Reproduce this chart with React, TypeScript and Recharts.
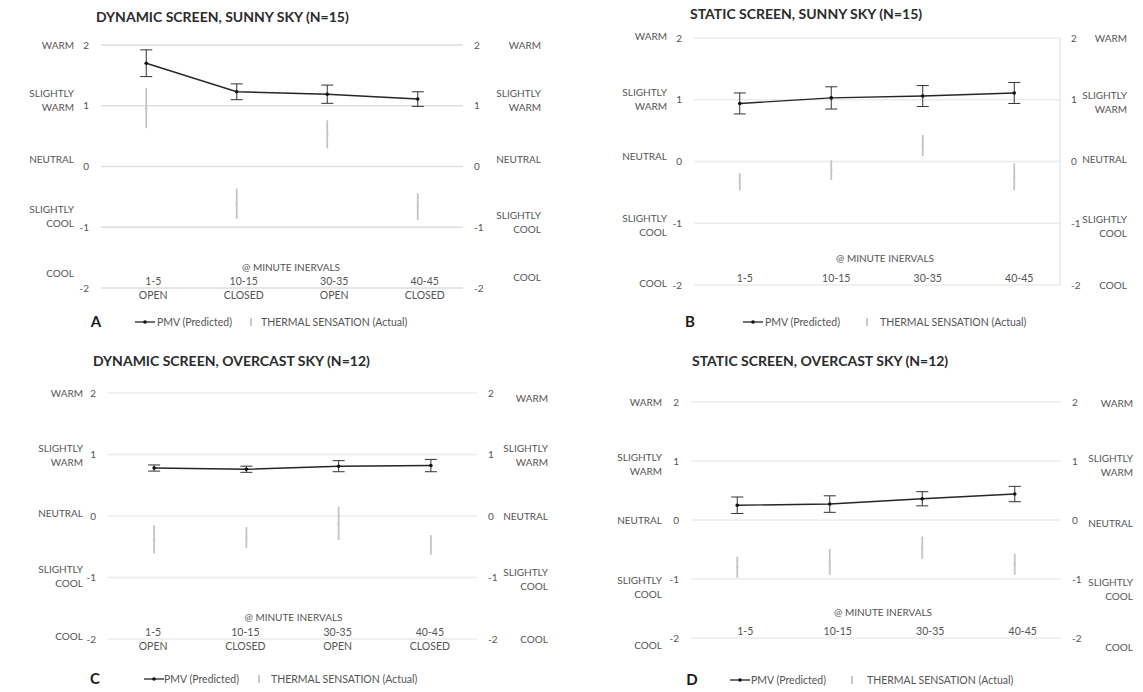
import React from 'react';
import { ComposedChart, Line, XAxis, YAxis, CartesianGrid, ErrorBar, Label } from 'recharts';

// categories and tick labels
const intervals = ['1-5', '10-15', '30-35', '40-45'];
const screenStates = ['OPEN', 'CLOSED', 'OPEN', 'CLOSED'];
const levelTicks = [-2, -1, 0, 1, 2];
const levelNames = ['COOL', 'SLIGHTLY|COOL', 'NEUTRAL', 'SLIGHTLY|WARM', 'WARM'];

// A: dynamic screen, sunny sky
const pmvDynSunny = [1.7, 1.23, 1.19, 1.11];
const pmvDynSunnyErr = [0.22, 0.13, 0.15, 0.12];
const tsDynSunny = [0.96, -0.61, 0.53, -0.66];
const tsDynSunnyErr = [0.33, 0.25, 0.23, 0.22];

// B: static screen, sunny sky
const pmvStatSunny = [0.94, 1.03, 1.06, 1.11];
const pmvStatSunnyErr = [0.17, 0.18, 0.17, 0.17];
const tsStatSunny = [-0.33, -0.14, 0.26, -0.25];
const tsStatSunnyErr = [0.14, 0.16, 0.17, 0.22];

// C: dynamic screen, overcast sky
const pmvDynOvercast = [0.78, 0.76, 0.81, 0.82];
const pmvDynOvercastErr = [0.05, 0.05, 0.09, 0.1];
const tsDynOvercast = [-0.38, -0.35, -0.12, -0.47];
const tsDynOvercastErr = [0.23, 0.17, 0.27, 0.16];

// D: static screen, overcast sky
const pmvStatOvercast = [0.25, 0.27, 0.36, 0.44];
const pmvStatOvercastErr = [0.14, 0.14, 0.12, 0.13];
const tsStatOvercast = [-0.8, -0.71, -0.47, -0.75];
const tsStatOvercastErr = [0.18, 0.22, 0.19, 0.18];

const FONT = 'Lato, "Liberation Sans", sans-serif';
const TXT = '#555';

type Rect = { l: number; r: number; t: number; b: number };

interface PanelProps {
  title: string;
  letter: string;
  box: { x: number; y: number; w: number; h: number };
  plot: Rect;
  pmv: number[];
  pmvErr: number[];
  ts: number[];
  tsErr: number[];
  showStates: boolean;
  leftShift: number[];
  rightShift: number[];
  leftLabelGap: number;
  rightLabelGap: number;
  catDx: number;
  axisTitleDx: number;
  axisTitleDy: number;
  gridColor: string;
  rightLine?: boolean;
  titlePos: [number, number];
  legend: { y: number; letterX: number; lineX: number; textX: number; markX: number; tsX: number };
}

const makeLevelTick = (side: 'left' | 'right', edge: number, gap: number, shifts: number[]) => (p: any) => {
  const v = p.payload.value as number;
  const i = levelTicks.indexOf(v);
  const lines = levelNames[i].split('|');
  const numX = side === 'left' ? edge - 12 : edge + 11;
  const labX = side === 'left' ? edge - gap : edge + gap;
  return (
    <g>
      <text x={numX} y={p.y} dy="0.35em" textAnchor={side === 'left' ? 'end' : 'start'} fontSize={10} fill={TXT} fontFamily={FONT}>
        {String(v)}
      </text>
      <text x={labX} y={p.y + shifts[i]} textAnchor="end" fontSize={10} fill={TXT} fontFamily={FONT}>
        {lines.map((t, k) => (
          <tspan key={k} x={labX} dy={k === 0 ? '0.35em' : 14}>
            {t}
          </tspan>
        ))}
      </text>
    </g>
  );
};

const Panel: React.FC<PanelProps> = (props) => {
  const { box, plot } = props;
  const ly = 90;
  const ry = 70;
  const xh = 30;
  const local = { l: plot.l - box.x, r: plot.r - box.x, t: plot.t - box.y, b: plot.b - box.y };
  const margin = {
    left: local.l - ly,
    right: box.w - local.r - ry,
    top: local.t,
    bottom: box.h - local.b - xh,
  };
  const halfBand = (local.r - local.l) / 8;

  const data = intervals.map((name, i) => ({
    name,
    state: screenStates[i],
    pmv: props.pmv[i],
    pmvErr: props.pmvErr[i],
    ts: props.ts[i],
    tsErr: props.tsErr[i],
  }));

  const catTick = (p: any) => {
    const i = intervals.indexOf(p.payload.value);
    const x = p.x + props.catDx;
    return (
      <text x={x} y={local.b - 7} textAnchor="middle" fontSize={10.5} fill={TXT} fontFamily={FONT}>
        <tspan x={x} dy="0.35em">{p.payload.value}</tspan>
        {props.showStates && (
          <tspan x={x} dy={14}>
            {screenStates[i]}
          </tspan>
        )}
      </text>
    );
  };

  return (
    <div style={{ position: 'absolute', left: box.x, top: box.y, width: box.w, height: box.h }}>
      <ComposedChart width={box.w} height={box.h} data={data} margin={margin}>
        <CartesianGrid vertical={false} stroke={props.gridColor} strokeWidth={1.5} yAxisId="left" />
        <XAxis
          dataKey="name"
          axisLine={false}
          tickLine={false}
          height={xh}
          tick={catTick}
          interval={0}
          padding={{ left: halfBand, right: halfBand }}
        >
          <Label
            content={({ viewBox }: any) => (
              <text
                x={viewBox.x + viewBox.width / 2 + props.axisTitleDx}
                y={viewBox.y + props.axisTitleDy}
                dy="0.35em"
                textAnchor="middle"
                fontSize={10}
                fill={TXT}
                fontFamily={FONT}
              >
                @ MINUTE INERVALS
              </text>
            )}
          />
        </XAxis>
        <YAxis
          yAxisId="left"
          domain={[-2, 2]}
          ticks={levelTicks}
          width={ly}
          axisLine={false}
          tickLine={false}
          tick={makeLevelTick('left', local.l, props.leftLabelGap, props.leftShift)}
        />
        <YAxis
          yAxisId="right"
          orientation="right"
          domain={[-2, 2]}
          ticks={levelTicks}
          width={ry}
          axisLine={props.rightLine ? { stroke: '#dcdcdc' } : false}
          tickLine={false}
          tick={makeLevelTick('right', local.r, props.rightLabelGap, props.rightShift)}
        />
        <Line
          yAxisId="right"
          dataKey="ts"
          name="THERMAL SENSATION (Actual)"
          stroke="none"
          dot={{ r: 1.2, fill: '#c8c8c8', stroke: 'none' }}
          isAnimationActive={false}
        >
          <ErrorBar dataKey="tsErr" width={0} stroke="#c4c4c4" strokeWidth={1.8} />
        </Line>
        <Line
          yAxisId="left"
          dataKey="pmv"
          name="PMV (Predicted)"
          stroke="#262626"
          strokeWidth={1.4}
          dot={{ r: 1.8, fill: '#111', stroke: 'none' }}
          isAnimationActive={false}
        >
          <ErrorBar dataKey="pmvErr" width={6} stroke="#333" strokeWidth={1} />
        </Line>
      </ComposedChart>
    </div>
  );
};

const Overlay: React.FC<{ panels: PanelProps[] }> = ({ panels }) => (
  <svg width={1143} height={692} style={{ position: 'absolute', left: 0, top: 0, pointerEvents: 'none' }}>
    {panels.map((p) => {
      const lg = p.legend;
      return (
        <g key={p.letter}>
          <text x={p.titlePos[0]} y={p.titlePos[1]} dy="0.35em" fontSize={14} fontWeight={700} fill="#2b2b2b" fontFamily={FONT}>
            {p.title}
          </text>
          <text x={lg.letterX} y={lg.y} dy="0.35em" textAnchor="middle" fontSize={15} fontWeight={700} fill="#1a1a1a" fontFamily={FONT}>
            {p.letter}
          </text>
          <line x1={lg.lineX} x2={lg.lineX + 20} y1={lg.y} y2={lg.y} stroke="#262626" strokeWidth={1.3} />
          <circle cx={lg.lineX + 10} cy={lg.y} r={1.8} fill="#111" />
          <text x={lg.textX} y={lg.y} dy="0.35em" fontSize={10.5} fill={TXT} fontFamily={FONT}>
            PMV (Predicted)
          </text>
          <line x1={lg.markX} x2={lg.markX} y1={lg.y - 4} y2={lg.y + 4} stroke="#c4c4c4" strokeWidth={1.8} />
          <text x={lg.tsX} y={lg.y} dy="0.35em" fontSize={10.5} fill={TXT} fontFamily={FONT}>
            THERMAL SENSATION (Actual)
          </text>
        </g>
      );
    })}
  </svg>
);

const panels: PanelProps[] = [
  {
    title: 'DYNAMIC SCREEN, SUNNY SKY (N=15)',
    letter: 'A',
    box: { x: 0, y: 0, w: 570, h: 340 },
    plot: { l: 101, r: 463, t: 45, b: 288 },
    pmv: pmvDynSunny,
    pmvErr: pmvDynSunnyErr,
    ts: tsDynSunny,
    tsErr: tsDynSunnyErr,
    showStates: true,
    leftShift: [-15, -18, -7, -12, 0],
    rightShift: [-11, -12, -7, -12, 0],
    leftLabelGap: 27,
    rightLabelGap: 78,
    catDx: 7,
    axisTitleDx: 9,
    axisTitleDy: -21,
    gridColor: '#dedede',
    titlePos: [96, 17],
    legend: { y: 322, letterX: 96, lineX: 135, textX: 157, markX: 251, tsX: 261 },
  },
  {
    title: 'STATIC SCREEN, SUNNY SKY (N=15)',
    letter: 'B',
    box: { x: 570, y: 0, w: 573, h: 340 },
    plot: { l: 694, r: 1060, t: 38, b: 285 },
    pmv: pmvStatSunny,
    pmvErr: pmvStatSunnyErr,
    ts: tsStatSunny,
    tsErr: tsStatSunnyErr,
    showStates: false,
    leftShift: [-2, -5, -5, -7, -2],
    rightShift: [0, -4, -2, -4, 0],
    leftLabelGap: 27,
    rightLabelGap: 67,
    catDx: 5,
    axisTitleDx: 8,
    axisTitleDy: -27,
    gridColor: '#ececec',
    rightLine: true,
    titlePos: [690, 14],
    legend: { y: 322, letterX: 690, lineX: 743, textX: 765, markX: 867, tsX: 880 },
  },
  {
    title: 'DYNAMIC SCREEN, OVERCAST SKY (N=12)',
    letter: 'C',
    box: { x: 0, y: 340, w: 570, h: 352 },
    plot: { l: 108, r: 477, t: 393, b: 639 },
    pmv: pmvDynOvercast,
    pmvErr: pmvDynOvercastErr,
    ts: tsDynOvercast,
    tsErr: tsDynOvercastErr,
    showStates: true,
    leftShift: [-3, -8, -3, -6, 0],
    rightShift: [0, -5, 0, -6, 5],
    leftLabelGap: 25,
    rightLabelGap: 71,
    catDx: -1,
    axisTitleDx: 1,
    axisTitleDy: -22,
    gridColor: '#ececec',
    titlePos: [93, 361],
    legend: { y: 679, letterX: 95, lineX: 144, textX: 164, markX: 259, tsX: 271 },
  },
  {
    title: 'STATIC SCREEN, OVERCAST SKY (N=12)',
    letter: 'D',
    box: { x: 570, y: 340, w: 573, h: 352 },
    plot: { l: 691, r: 1061, t: 402, b: 638 },
    pmv: pmvStatOvercast,
    pmvErr: pmvStatOvercastErr,
    ts: tsStatOvercast,
    tsErr: tsStatOvercastErr,
    showStates: false,
    leftShift: [7, 1, 0, -4, 0],
    rightShift: [9, 3, 3, -3, 1],
    leftLabelGap: 29,
    rightLabelGap: 72,
    catDx: 8,
    axisTitleDx: 7,
    axisTitleDy: -26,
    gridColor: '#ececec',
    titlePos: [692, 361],
    legend: { y: 680, letterX: 692, lineX: 730, textX: 751, markX: 852, tsX: 867 },
  },
];

export default function App() {
  return (
    <div style={{ position: 'absolute', left: 0, top: 0, width: 1143, height: 692, background: '#fff', overflow: 'hidden' }}>
      {panels.map((p) => (
        <Panel key={p.letter} {...p} />
      ))}
      <Overlay panels={panels} />
    </div>
  );
}
